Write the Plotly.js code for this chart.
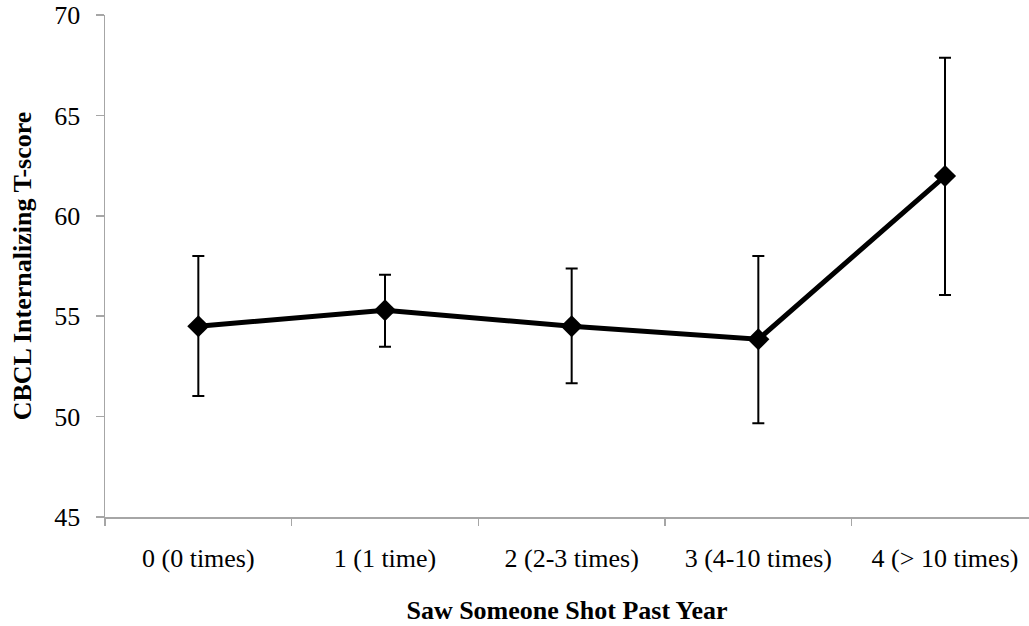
<!DOCTYPE html>
<html>
<head>
<meta charset="utf-8">
<script src="https://cdn.plot.ly/plotly-3.0.1.min.js"></script>
<style>html,body{margin:0;padding:0;background:#fff;}#chart{width:1029px;height:626px;}</style>
</head>
<body>
<div id="chart"></div>
<script>
const categories = ["0 (0 times)", "1 (1 time)", "2 (2-3 times)", "3 (4-10 times)", "4 (> 10 times)"];
const means = [54.5, 55.3, 54.5, 53.85, 61.98];
const errUpper = [58.0, 57.07, 57.37, 58.0, 67.87];
const errLower = [51.03, 53.48, 51.66, 49.67, 56.06];
const yTicks = [45, 50, 55, 60, 65, 70];

const plus = means.map((m, i) => errUpper[i] - m);
const minus = means.map((m, i) => m - errLower[i]);

const font = "'Liberation Serif', 'Times New Roman', serif";
const axisGray = "#a6a6a6";

const trace = {
  type: "scatter",
  mode: "lines+markers",
  x: categories,
  y: means,
  line: {color: "#000", width: 5},
  marker: {symbol: "diamond", size: 17, color: "#000"},
  error_y: {type: "data", symmetric: false, array: plus, arrayminus: minus, color: "#000", thickness: 2, width: 6},
  showlegend: false,
  hoverinfo: "skip"
};

const layout = {
  width: 1029, height: 626,
  margin: {l: 105, r: 0, t: 15, b: 109},
  paper_bgcolor: "#fff", plot_bgcolor: "#fff",
  font: {family: font, color: "#000", size: 26},
  xaxis: {
    type: "category",
    range: [-0.5, 4.45],
    tickson: "boundaries",
    ticks: "outside", ticklen: 7, tickcolor: axisGray, tickwidth: 1.5,
    showline: true, linecolor: axisGray, linewidth: 1.5,
    showgrid: false, zeroline: false,
    tickfont: {family: font, size: 26, color: "#000"},
    ticklabelstandoff: 17,
    title: {text: "<b>Saw Someone Shot Past Year</b>", font: {family: font, size: 26, color: "#000"}, standoff: 29},
    automargin: false, fixedrange: true
  },
  yaxis: {
    range: [45, 70],
    tickvals: yTicks,
    ticktext: yTicks.map(String),
    ticks: "outside", ticklen: 8, tickcolor: axisGray, tickwidth: 1.5,
    showline: true, linecolor: axisGray, linewidth: 1.5,
    showgrid: false, zeroline: false,
    tickfont: {family: font, size: 26, color: "#000"},
    ticklabelstandoff: 10,
    title: {text: "<b>CBCL Internalizing T-score</b>", font: {family: font, size: 26, color: "#000"}, standoff: 15},
    automargin: false, fixedrange: true
  }
};

Plotly.newPlot("chart", [trace], layout, {staticPlot: true, displayModeBar: false});
</script>
</body>
</html>
